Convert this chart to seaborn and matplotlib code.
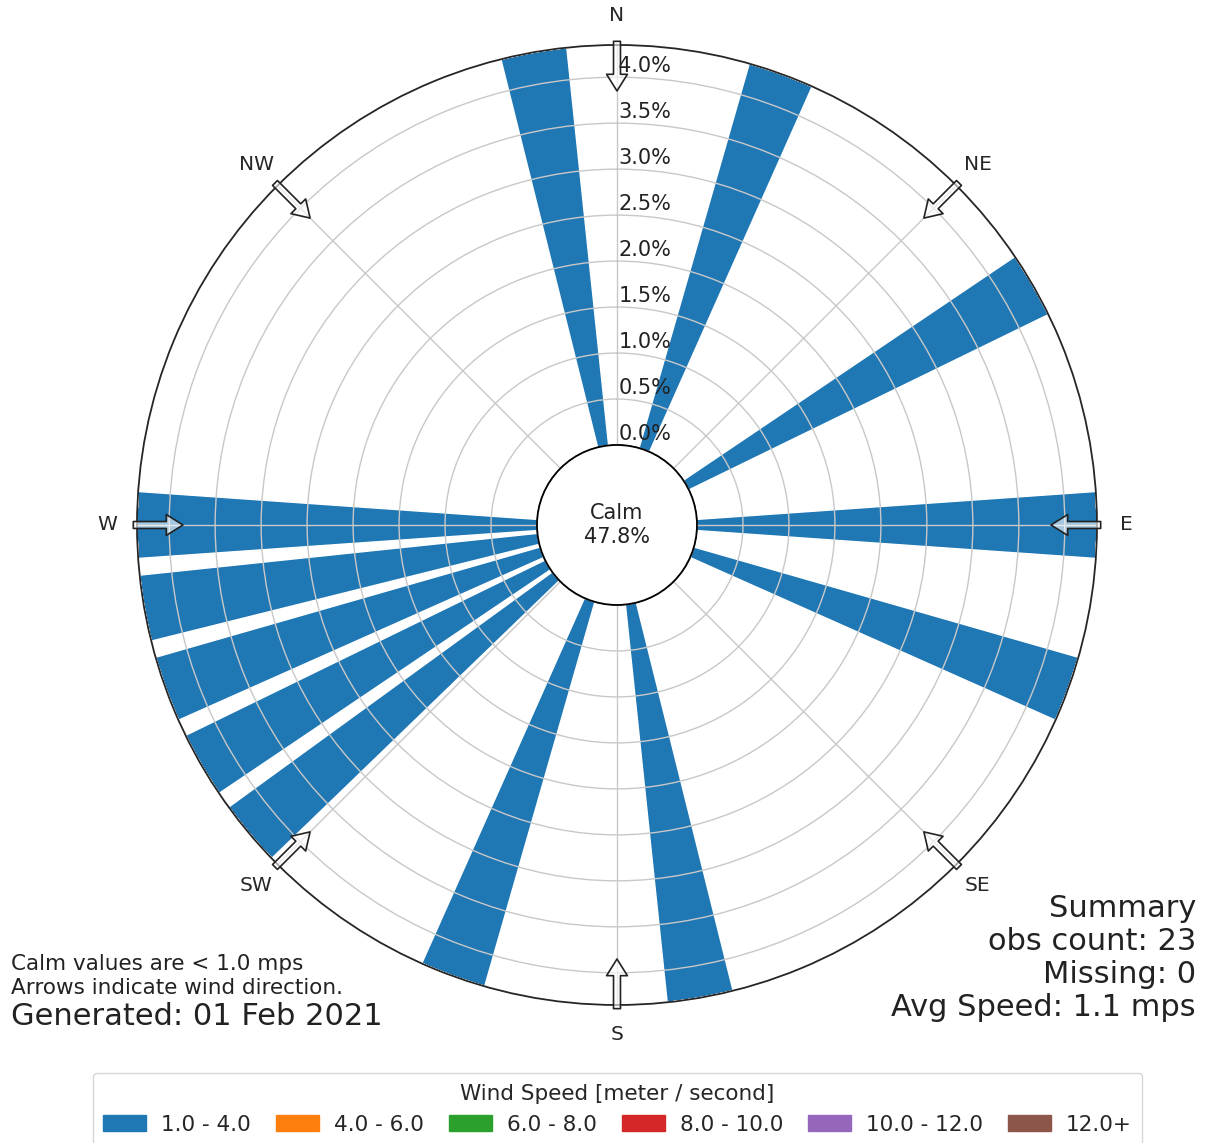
import numpy as np
import matplotlib
matplotlib.use("Agg")
import matplotlib.pyplot as plt
from matplotlib.patches import Circle, Patch
import seaborn as sns

# wind rose data (percent of observations per direction / speed bin)
directions = [20, 60, 90, 110, 170, 200, 230, 240, 250, 260, 270, 350]
speed_bins = ["1.0 - 4.0", "4.0 - 6.0", "6.0 - 8.0", "8.0 - 10.0", "10.0 - 12.0", "12.0+"]
freq_1_4 = [4.35, 4.35, 4.35, 4.35, 4.35, 4.35, 4.35, 4.35, 4.35, 4.35, 4.35, 4.35]
freq_4_6 = [0, 0, 0, 0, 0, 0, 0, 0, 0, 0, 0, 0]
freq_6_8 = [0, 0, 0, 0, 0, 0, 0, 0, 0, 0, 0, 0]
freq_8_10 = [0, 0, 0, 0, 0, 0, 0, 0, 0, 0, 0, 0]
freq_10_12 = [0, 0, 0, 0, 0, 0, 0, 0, 0, 0, 0, 0]
freq_12_up = [0, 0, 0, 0, 0, 0, 0, 0, 0, 0, 0, 0]
calm_pct = 47.8
obs_count = 23
missing = 0
avg_speed = 1.1

compass_deg = [0, 45, 90, 135, 180, 225, 270, 315]
compass_lab = ["N", "NE", "E", "SE", "S", "SW", "W", "NW"]
r_ticks = [0.0, 0.5, 1.0, 1.5, 2.0, 2.5, 3.0, 3.5, 4.0]

sns.set_style("white")
plt.rcParams["font.family"] = ["DejaVu Sans"]
colors = sns.color_palette("tab10", len(speed_bins))

fig = plt.figure(figsize=(12.06, 11.43), dpi=100)
ax = fig.add_axes([0.1136, 0.1207, 0.796, 0.84], projection="polar")
ax.set_theta_zero_location("N")
ax.set_theta_direction(-1)

theta = np.deg2rad(directions)
width = np.deg2rad(8)
bottom = np.zeros(len(directions))
for vals, col in zip([freq_1_4, freq_4_6, freq_6_8, freq_8_10, freq_10_12, freq_12_up], colors):
    ax.bar(theta, vals, width=width, bottom=bottom, color=col, zorder=1)
    bottom = bottom + np.array(vals)

ax.set_ylim(0, 4.35)
ax.set_rorigin(-0.87)
ax.set_axisbelow(False)
ax.grid(True, color="#c8c8c8", lw=1.0, zorder=2)
ax.spines["polar"].set_linewidth(1.3)
ax.spines["polar"].set_zorder(5)

ax.set_yticks(r_ticks)
ax.set_yticklabels([])
for r in r_ticks:
    ax.annotate(f"{r:.1f}%", xy=(0, r), xytext=(1, 0.5), textcoords="offset points",
                ha="left", va="bottom", fontsize=15, color="#222222", zorder=6)

ax.set_xticks(np.deg2rad(compass_deg))
ax.set_xticklabels(compass_lab, fontsize=14.5)
ax.tick_params(axis="x", pad=11)

# arrows showing wind direction
for d in compass_deg:
    t = np.deg2rad(d)
    ax.annotate("", xy=(t, 3.85), xytext=(t, 4.39),
                arrowprops=dict(arrowstyle="simple,head_length=0.6,head_width=0.75,tail_width=0.25",
                                mutation_scale=20, fc=(1, 1, 1, 0.6), ec="#222222", lw=1.2,
                                shrinkA=0, shrinkB=0),
                annotation_clip=False, zorder=7)

# calm circle
ax.add_artist(Circle((0.5, 0.5), 80 / 960, transform=ax.transAxes, fc="white",
                     ec="black", lw=1.3, zorder=8, clip_on=False))
ax.text(0.5, 0.5, f"Calm\n{calm_pct:.1f}%", transform=ax.transAxes, ha="center",
        va="center", fontsize=15, zorder=9, color="#222222")

fig.text(11 / 1206, 1 - 998 / 1143, "Calm values are < 1.0 mps\nArrows indicate wind direction.",
         ha="left", va="bottom", fontsize=15.5, linespacing=1.25, color="#222222")
fig.text(11 / 1206, 1 - 1025 / 1143, "Generated: 01 Feb 2021", ha="left", va="baseline",
         fontsize=22, color="#222222")
fig.text(1196 / 1206, 1 - 1022 / 1143,
         f"Summary\nobs count: {obs_count}\nMissing: {missing}\nAvg Speed: {avg_speed} mps",
         ha="right", va="bottom", fontsize=22, linespacing=1.18, color="#222222")

handles = [Patch(color=c, label=l) for c, l in zip(colors, speed_bins)]
fig.legend(handles=handles, title="Wind Speed [meter / second]", ncol=6, loc="upper center",
           bbox_to_anchor=(617.5 / 1206, 1 - 1073 / 1143), fontsize=15.5, title_fontsize=15.5,
           handlelength=2.0, handletextpad=0.7, columnspacing=1.15, borderaxespad=0,
           borderpad=0.5, frameon=True)

fig.savefig("out.png", dpi=100)
